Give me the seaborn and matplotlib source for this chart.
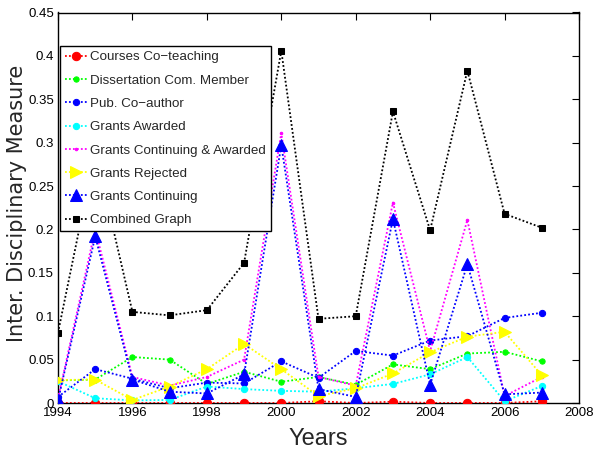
import matplotlib
matplotlib.use("Agg")
import matplotlib.pyplot as plt
import seaborn as sns
import pandas as pd
import numpy as np

years = [1994, 1995, 1996, 1997, 1998, 1999, 2000, 2001, 2002, 2003, 2004, 2005, 2006, 2007]

courses_coteaching = [0.0, 0.0, 0.0, 0.0, 0.0, 0.0, 0.0, 0.002, 0.0, 0.0015, 0.0, 0.0, 0.0, 0.002]
dissertation_com = [0.026, 0.027, 0.053, 0.050, 0.022, 0.036, 0.0245, 0.030, 0.021, 0.0445, 0.039, 0.057, 0.059, 0.048]
pub_coauthor = [0.007, 0.039, 0.028, 0.017, 0.0235, 0.0225, 0.048, 0.029, 0.060, 0.0546, 0.072, 0.077, 0.098, 0.104]
grants_awarded = [0.025, 0.0055, 0.003, 0.0035, 0.019, 0.016, 0.014, 0.013, 0.017, 0.022, 0.033, 0.053, 0.002, 0.0196]
grants_cont_awarded = [0.005, 0.200, 0.030, 0.020, 0.030, 0.050, 0.311, 0.030, 0.020, 0.231, 0.060, 0.211, 0.008, 0.030]
grants_rejected = [0.0265, 0.027, 0.0035, 0.019, 0.039, 0.068, 0.039, 0.008, 0.017, 0.034, 0.0585, 0.0765, 0.082, 0.032]
grants_continuing = [0.003, 0.192, 0.027, 0.013, 0.011, 0.033, 0.297, 0.016, 0.007, 0.212, 0.021, 0.160, 0.010, 0.012]
combined = [0.081, 0.290, 0.105, 0.101, 0.107, 0.1615, 0.406, 0.097, 0.100, 0.336, 0.199, 0.383, 0.218, 0.202]

labels = ["Courses Co\u2212teaching", "Dissertation Com. Member", "Pub. Co\u2212author",
          "Grants Awarded", "Grants Continuing & Awarded", "Grants Rejected",
          "Grants Continuing", "Combined Graph"]
series = [courses_coteaching, dissertation_com, pub_coauthor, grants_awarded,
          grants_cont_awarded, grants_rejected, grants_continuing, combined]

styles = [
    dict(color=(1, 0, 0), marker="o", ms=6),
    dict(color=(0, 1, 0), marker="o", ms=3.8),
    dict(color=(0, 0, 1), marker="o", ms=4.5),
    dict(color=(0, 1, 1), marker="o", ms=4.5),
    dict(color=(1, 0, 1), marker="o", ms=1.8),
    dict(color=(1, 1, 0), marker=">", ms=8.5),
    dict(color=(0, 0, 1), marker="^", ms=8.5),
    dict(color=(0, 0, 0), marker="s", ms=5),
]

sns.set_style("white")
plt.rcParams["font.family"] = ["Liberation Sans", "DejaVu Sans"]

fig = plt.figure(figsize=(5.93, 4.5), dpi=100)
ax = fig.add_axes([58 / 593, 47 / 450, 521 / 593, 390.5 / 450])

for i, (lab, vals, st) in enumerate(zip(labels, series, styles)):
    df = pd.DataFrame({"year": years, "value": vals})
    sns.lineplot(data=df, x="year", y="value", ax=ax, color=st["color"],
                 linestyle=(0, (1, 1.2)), linewidth=1.3, marker=st["marker"],
                 markersize=st["ms"], markeredgecolor=st["color"],
                 markerfacecolor=st["color"], label=lab, sort=False,
                 estimator=None, zorder=3 + i)

ax.set_xlim(1994, 2008)
ax.set_ylim(0, 0.45)
ax.set_xticks(range(1994, 2009, 2))
ax.set_xticklabels([str(y) for y in range(1994, 2009, 2)])
yt = [0, 0.05, 0.1, 0.15, 0.2, 0.25, 0.3, 0.35, 0.4, 0.45]
ax.set_yticks(yt)
ax.set_yticklabels(["0", "0.05", "0.1", "0.15", "0.2", "0.25", "0.3", "0.35", "0.4", "0.45"])
ax.tick_params(direction="in", length=5, width=0.8, top=True, right=True,
               labelsize=9.5, colors="black", pad=3)
for sp in ax.spines.values():
    sp.set_color("black")
    sp.set_linewidth(1.0)

ax.set_xlabel("Years", fontsize=17)
ax.xaxis.set_label_coords(0.5, -0.065, transform=ax.transAxes)
ax.xaxis.label.set_va("top")
ax.set_ylabel("Inter. Disciplinary Measure", fontsize=15, family="DejaVu Sans")
ax.yaxis.set_label_coords(-0.078, 0.51, transform=ax.transAxes)
ax.yaxis.label.set_va("center")

leg = ax.legend(loc="upper left", bbox_to_anchor=(0.004, 0.913), fontsize=9.6,
                frameon=True, fancybox=False, framealpha=1, edgecolor="black",
                handlelength=1.7, handletextpad=0.2, labelspacing=0.82,
                borderpad=0.35, borderaxespad=0)
leg.get_frame().set_linewidth(1.0)
leg.set_zorder(20)

fig.savefig("out.png", dpi=100)
